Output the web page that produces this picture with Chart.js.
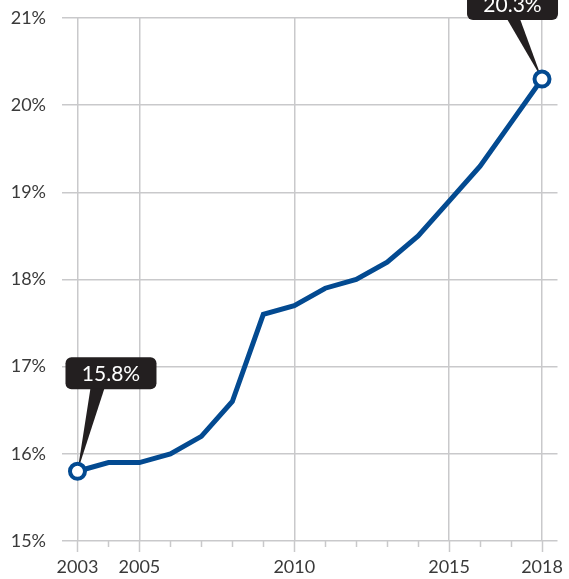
<!DOCTYPE html>
<html lang="en">

<head>
    <meta charset="UTF-8">
    <title>Share over time</title>
    <script src="https://cdn.jsdelivr.net/npm/chart.js"></script>
    <style>
        body { margin: 0; background: #fff; }
        #wrap { width: 569px; height: 579px; }
    </style>
</head>

<body>
    <div id="wrap"><canvas id="myChart"></canvas></div>

    <script>
        // data
        const years = [2003, 2004, 2005, 2006, 2007, 2008, 2009, 2010, 2011, 2012, 2013, 2014, 2015, 2016, 2017, 2018];
        const values = [15.8, 15.9, 15.9, 16.0, 16.2, 16.6, 17.6, 17.7, 17.9, 18.0, 18.2, 18.5, 18.9, 19.3, 19.8, 20.3];
        const labeledYears = [2003, 2005, 2010, 2015, 2018];

        const FONT = 'Lato, "DejaVu Sans", sans-serif';
        const BLUE = '#034a91';
        const GRID = '#c9c9cb';

        // small tick marks under the x axis, longer at the labelled years
        const tickMarks = {
            id: 'tickMarks',
            afterDraw(chart) {
                const ctx = chart.ctx;
                const x = chart.scales.x;
                const bottom = chart.chartArea.bottom;
                ctx.save();
                ctx.strokeStyle = GRID;
                ctx.lineWidth = 1.5;
                years.forEach(y => {
                    const px = Math.round(x.getPixelForValue(y)) + 0.5;
                    const len = labeledYears.includes(y) ? 11 : 6;
                    ctx.beginPath();
                    ctx.moveTo(px, bottom);
                    ctx.lineTo(px, bottom + len);
                    ctx.stroke();
                });
                ctx.restore();
            }
        };

        // dark callouts for first and last value
        const callouts = {
            id: 'callouts',
            beforeDatasetsDraw(chart) {
                const ctx = chart.ctx;
                const pts = chart.getDatasetMeta(0).data;
                const specs = [
                    { i: 0, dx: -12, dy: -114, w: 91, h: 32, base: [25, 39] },
                    { i: values.length - 1, dx: -75, dy: -91, w: 91, h: 32, base: [40, 53] }
                ];
                ctx.save();
                specs.forEach(s => {
                    const p = pts[s.i];
                    const bx = p.x + s.dx, by = p.y + s.dy;
                    ctx.fillStyle = '#231f20';
                    ctx.beginPath();
                    ctx.roundRect(bx, by, s.w, s.h, 6);
                    ctx.fill();
                    ctx.beginPath();
                    ctx.moveTo(bx + s.base[0], by + s.h - 1);
                    ctx.lineTo(bx + s.base[1], by + s.h - 1);
                    ctx.lineTo(p.x, p.y);
                    ctx.closePath();
                    ctx.fill();
                    ctx.fillStyle = '#fff';
                    ctx.font = '21px ' + FONT;
                    ctx.textAlign = 'center';
                    ctx.textBaseline = 'middle';
                    ctx.fillText(values[s.i].toFixed(1) + '%', bx + s.w / 2, by + s.h / 2 + 1);
                });
                ctx.restore();
            }
        };

        const data = {
            datasets: [{
                data: years.map((y, i) => ({ x: y, y: values[i] })),
                borderColor: BLUE,
                borderWidth: 5,
                tension: 0,
                pointRadius: ctx => (ctx.dataIndex === 0 || ctx.dataIndex === values.length - 1) ? 7.5 : 0,
                pointBackgroundColor: '#fff',
                pointBorderColor: BLUE,
                pointBorderWidth: 4
            }]
        };

        const config = {
            type: 'line',
            data,
            options: {
                responsive: true,
                maintainAspectRatio: false,
                animation: false,
                layout: { padding: { top: 18, right: 8, left: 0, bottom: 0 } },
                plugins: {
                    legend: { display: false },
                    tooltip: { enabled: false }
                },
                scales: {
                    x: {
                        type: 'linear',
                        min: 2002.5,
                        max: 2018.5,
                        afterBuildTicks: axis => {
                            axis.ticks = years.map(v => ({ value: v }));
                        },
                        afterFit: axis => {
                            axis.height = 38;
                            axis.paddingLeft = 0;
                            axis.paddingRight = 0;
                        },
                        border: { display: false },
                        grid: {
                            color: c => labeledYears.includes(c.tick && c.tick.value) ? GRID : 'rgba(0,0,0,0)',
                            lineWidth: 1.5,
                            drawTicks: false
                        },
                        ticks: {
                            autoSkip: false,
                            maxRotation: 0,
                            padding: 15,
                            color: '#3a3a3a',
                            font: { family: FONT, size: 18 },
                            callback: v => labeledYears.includes(v) ? String(v) : ''
                        }
                    },
                    y: {
                        min: 15,
                        max: 21,
                        afterFit: axis => {
                            axis.width = 62;
                            axis.paddingTop = 0;
                            axis.paddingBottom = 0;
                        },
                        border: { display: false },
                        grid: { color: GRID, lineWidth: 1.5, drawTicks: false },
                        ticks: {
                            stepSize: 1,
                            padding: 16,
                            color: '#3a3a3a',
                            font: { family: FONT, size: 18 },
                            callback: v => v + '%'
                        }
                    }
                }
            },
            plugins: [tickMarks, callouts]
        };

        const myChart = new Chart(document.getElementById('myChart'), config);
    </script>
</body>

</html>
